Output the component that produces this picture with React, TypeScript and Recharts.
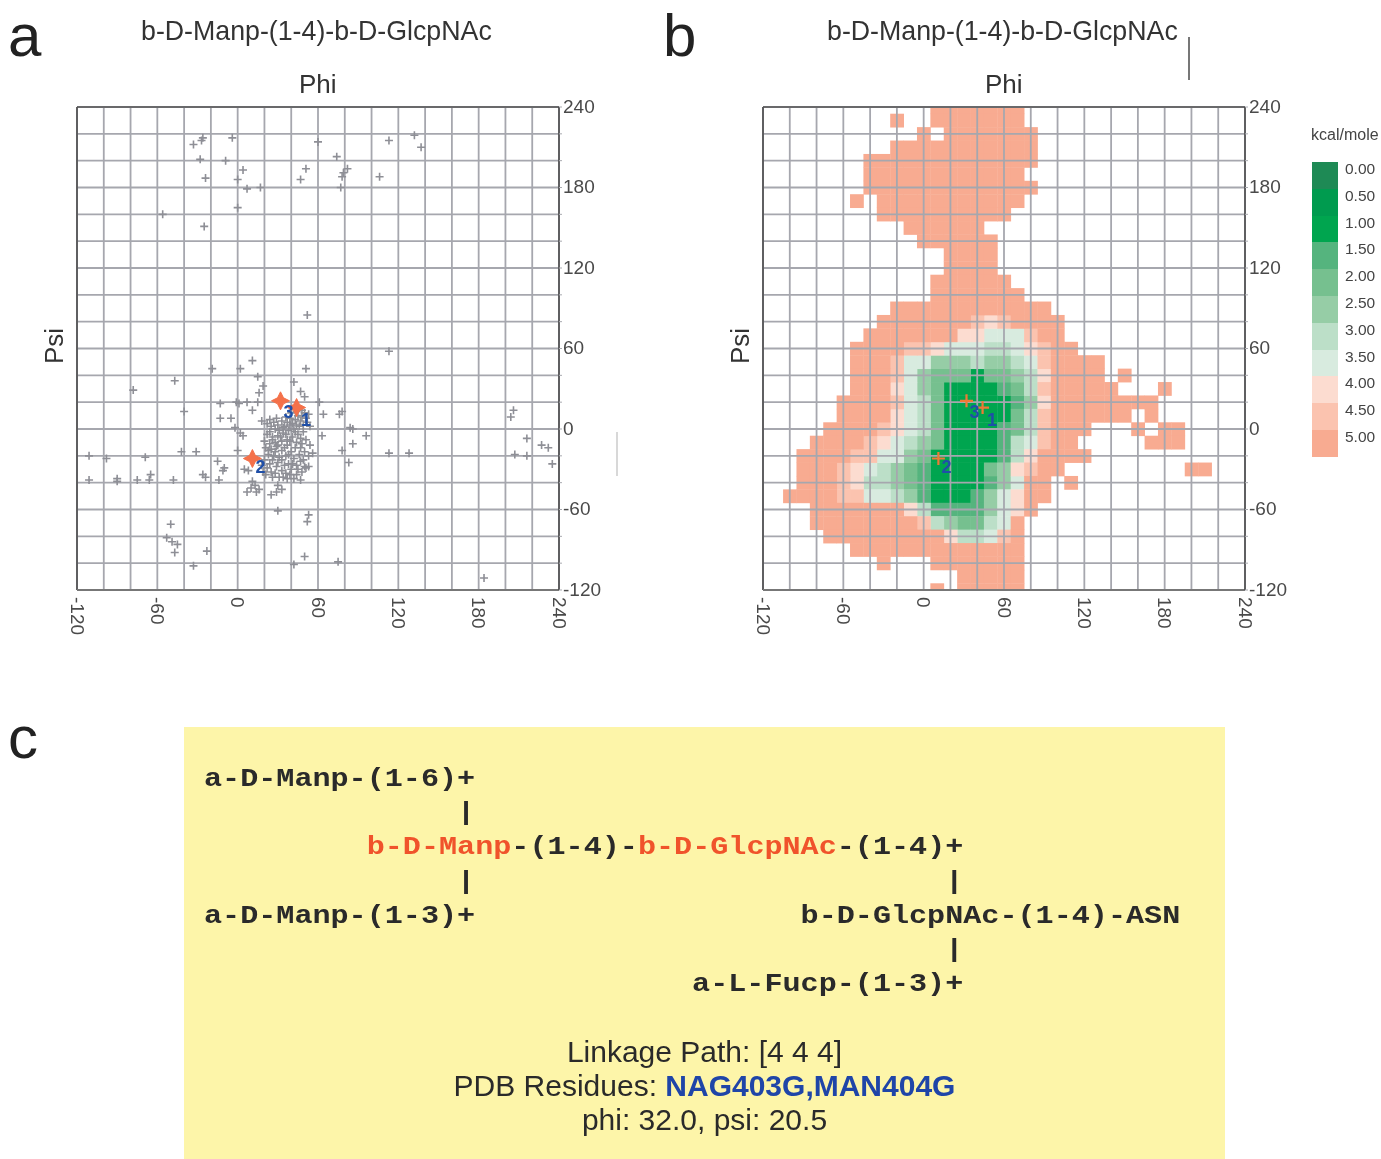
import { ScatterChart, Scatter, XAxis, YAxis, CartesianGrid, ReferenceLine } from 'recharts'

const gridTicks = [-120, -100, -80, -60, -40, -20, 0, 20, 40, 60, 80, 100, 120, 140, 160, 180, 200, 220, 240]
const gridPsiTicks = gridTicks

const titleText = 'b-D-Manp-(1-4)-b-D-GlcpNAc'

// [phi, psi] of the glycosidic linkages in the PDB survey (panel a)
const surveyTop = [
  [-33, 212], [-27, 215], [-26, 217], [-4, 217], [60, 214], [-28, 201], [-9, 200], [4, 193], [51, 194], [47, 186],
  [-24, 187], [0, 186], [7, 179], [17, 180], [-56, 160], [0, 165], [-25, 151], [52, 85], [74, 203], [82, 194],
  [79, 191], [78, 188], [77, 180], [106, 188], [113, 215], [132, 219], [137, 210],
]
const surveyLeft = [
  [-19, 45], [2, 45], [-47, 36], [-78, 29], [-13, 19], [-1, 20], [1, 19], [7, 20], [-40, 13], [-13, 8],
  [-5, 8], [-2, 1], [2, -3], [4, -5], [0, -16], [-42, -17], [-31, -17], [-69, -21], [-98, -22], [-111, -20],
  [-15, -24], [-10, -29], [-11, -31], [-26, -34], [-24, -36], [-65, -34], [-66, -38], [-75, -38], [-90, -37], [-90, -39],
  [-111, -38], [-48, -38], [-14, -38], [5, -30], [8, -31], [11, 51], [15, 39], [19, 32], [16, 27], [15, 20], [11, 14], [18, 6],
]
const surveyRight = [
  [113, 58], [51, 45], [61, 20], [64, 11], [78, 13], [76, 11], [84, 1], [86, 0], [63, -5], [96, -5],
  [86, -11], [78, -16], [56, -18], [113, -18], [128, -18], [83, -25], [50, 24], [53, -28], [51, -29], [206, 14],
  [204, 9], [216, -7], [207, -19], [216, -20], [227, -12], [232, -14], [235, -26], [42, 35], [47, 28],
]
const surveyBottom = [
  [-50, -71], [-53, -81], [-49, -84], [-45, -86], [-47, -92], [-23, -91], [-33, -102], [50, -95], [42, -101], [75, -99],
  [184, -111], [30, -61], [53, -64], [52, -69], [25, -49], [11, -39], [13, -42], [10, -44], [16, -45], [14, -47],
  [7, -47], [30, -42], [33, -45], [29, -47],
]
const surveyCluster = [
  [22, 4], [25, 2], [27, 5], [30, 3], [33, 6], [28, 0], [24, -2], [31, -1], [35, 2], [37, 5],
  [39, 8], [41, 4], [43, 7], [45, 10], [47, 6], [49, 3], [51, 8], [53, 11], [46, 2], [42, 0],
  [38, -1], [34, -3], [30, -5], [26, -6], [22, -4], [36, 9], [40, 12], [44, 13], [48, 14], [50, 12],
  [52, 5], [54, 2], [49, -2], [45, -4], [41, -6], [37, -8], [33, -9], [28, -10], [24, -11], [20, -9],
  [21, -14], [25, -15], [29, -13], [33, -16], [37, -12], [40, -17], [44, -10], [47, -14], [51, -8], [54, -12],
  [23, -19], [27, -20], [31, -21], [36, -20], [42, -22], [46, -19], [49, -23], [53, -20], [38, -26], [44, -27],
  [47, -24], [50, -28], [18, -27], [22, -29], [25, -32], [29, -28], [33, -31], [36, -33], [40, -30], [44, -34],
  [48, -32], [21, -34], [26, -36], [31, -36], [37, -37], [42, -37], [47, -38], [19, -32], [35, -27],
  [24, 7], [29, 8], [34, 1], [39, 3], [44, 3], [48, 9], [32, -6], [36, -4], [43, -2], [47, -7],
  [26, -8], [30, -12], [35, -14], [39, -9], [43, -14], [48, -11], [23, -16], [28, -17], [33, -23], [38, -19],
  [41, -26], [45, -30], [28, -33], [34, -36], [39, -34], [24, -26], [20, -23], [30, -25], [26, -23], [50, -17],
]

const optimaPhi = [44, 32, 11]
const optimaPsi = [16, 21, -22]
const numberPhi = [51, 17, 38]
const numberPsi = [7, -28, 13]
const numberText = ['1', '2', '3']

const levelNames = ['0.00', '0.50', '1.00', '1.50', '2.00', '2.50', '3.00', '3.50', '4.00', '4.50', '5.00']
const levelColors = ['#1E8A55', '#009B4F', '#00A54F', '#55B47E', '#76C08F', '#96CDA6', '#BCDFC8', '#D8EBDF', '#FCDCD0', '#FBC3AF', '#F8AB91']

// one string per psi row (240 down to -120), one char per phi column (-120 up), hex index into levelNames
const energyRows = [
  '.............AAAAAAA',
  '..........A..AAAAAAA',
  '............A.AAAAAAA',
  '..........AAAAAAAAAAA',
  '........AAAAAAAAAAAAA',
  '........AAAAAAAAAAAA',
  '........AAAAAAAAAAAAA',
  '.......A.AAAAAAAAAAA',
  '.........AAAAAAAAAA',
  '...........AAAAAA',
  '............AAAAAA',
  '..............AAAA',
  '..............AAAA',
  '.............AAAAAA',
  '.............AAAAAAA',
  '..........AAAAAAAAAAAA',
  '.........AAAAAAA989AAAA',
  '........AAAAAAA887779AA',
  '.......AAAA99877766789AA',
  '.......AAA977555655679AAAA',
  '.......AAA975444244568AAAA.A',
  '.......AAA875422223469AAAAA...A',
  '......AAAA976422222358AAAAAAAA',
  '......AAAA876422222469AAAAAA.A',
  '.....AAAA9876422223469AAA...A.AA',
  '....AAAA98765422223679AA.....AAA',
  '...AAAA99775422222368AAAA',
  '...AAA987654322224589AA.........AA',
  '...AAA98665432222357AA.A',
  '..AAAA99776532223578AA',
  '....AAAAAAA863333578A',
  '....AAAAAAAA9654467A',
  '.....AAAAAAAAA86679A',
  '.......AAAAAAAAAAAAA',
  '.........A...AAAAAAA',
  '...............AAAAA',
  '.............A.AAAAA',
]

const structureLines = [
  ['a-D-Manp-(1-6)+'],
  ['              |'],
  ['         ', '*b-D-Manp', '-(1-4)-', '*b-D-GlcpNAc', '-(1-4)+'],
  ['              |                          |'],
  ['a-D-Manp-(1-3)+                  b-D-GlcpNAc-(1-4)-ASN'],
  ['                                         |'],
  ['                           a-L-Fucp-(1-3)+'],
]

const surveyPoints = [...surveyTop, ...surveyLeft, ...surveyRight, ...surveyBottom, ...surveyCluster].map(([phi, psi]) => ({ phi, psi }))
const optima = optimaPhi.map((phi, i) => ({ phi, psi: optimaPsi[i] }))
const numbers = numberPhi.map((phi, i) => ({ phi, psi: numberPsi[i], label: numberText[i] }))

const energyCells: { phi: number; psi: number; level: number }[] = []
energyRows.forEach((row, r) => {
  row.split('').forEach((ch, c) => {
    if (ch !== '.') energyCells.push({ phi: -120 + c * 10, psi: 240 - r * 10, level: parseInt(ch, 16) })
  })
})

const PLOT_W = 482
const PLOT_H = 483
const CELL_W = PLOT_W / 36
const CELL_H = PLOT_H / 36
const SANS = '"Liberation Sans", Arial, sans-serif'

function HeatCell({ cx, cy, fill }: any) {
  return <rect x={cx - CELL_W / 2} y={cy - CELL_H / 2} width={CELL_W + 0.4} height={CELL_H + 0.4} fill={fill} />
}

function GrayPlus({ cx, cy }: any) {
  const d = `M${cx - 4} ${cy}H${cx + 4}M${cx} ${cy - 4}V${cy + 4}`
  return <path d={d} stroke="#8E8F96" strokeWidth={1.6} fill="none" />
}

function RedStar({ cx, cy }: any) {
  const d = `M${cx - 9} ${cy}L${cx - 3} ${cy - 3}L${cx} ${cy - 9}L${cx + 3} ${cy - 3}L${cx + 9} ${cy}L${cx + 3} ${cy + 3}L${cx} ${cy + 9}L${cx - 3} ${cy + 3}Z`
  return <path d={d} fill="#F4714A" stroke="#F4714A" strokeWidth={1} />
}

function OrangePlus({ cx, cy }: any) {
  const d = `M${cx - 6.5} ${cy}H${cx + 6.5}M${cx} ${cy - 6.5}V${cy + 6.5}`
  return <path d={d} stroke="#EE7A35" strokeWidth={2.2} fill="none" />
}

function NumberMark({ cx, cy, payload }: any) {
  return (
    <text x={cx} y={cy} textAnchor="middle" dominantBaseline="central" fontFamily={SANS} fontWeight="bold" fontSize={18} fill="#1F4FA8">
      {payload.label}
    </text>
  )
}

function PhiTick({ x, y, payload }: any) {
  if (payload.value % 60 !== 0) return <g />
  const y0 = y + 5
  return (
    <text x={x} y={y0} transform={`rotate(90 ${x} ${y0})`} dominantBaseline="central" fontFamily={SANS} fontSize={19} fill="#4A4A4A">
      {payload.value}
    </text>
  )
}

function PsiTick({ x, y, payload }: any) {
  if (payload.value % 60 !== 0) return <g />
  return (
    <text x={x + 1} y={y - 1} dominantBaseline="central" fontFamily={SANS} fontSize={19} fill="#4A4A4A">
      {payload.value}
    </text>
  )
}

function Panel({ left, letter, letterLeft, heat }: { left: number; letter: string; letterLeft: number; heat?: boolean }) {
  const plotX = left
  return (
    <>
      <div style={{ position: 'absolute', left: letterLeft, top: 2, fontFamily: SANS, fontSize: 60, color: '#222', lineHeight: '68px' }}>{letter}</div>
      <div style={{ position: 'absolute', left: plotX + 64, top: 16, fontFamily: SANS, fontSize: 26.75, color: '#333', lineHeight: '30px', whiteSpace: 'nowrap' }}>
        {titleText}
      </div>
      <div style={{ position: 'absolute', left: plotX + 222, top: 69, fontFamily: SANS, fontSize: 26, color: '#333', lineHeight: '30px' }}>Phi</div>
      <div
        style={{
          position: 'absolute',
          left: plotX - 23,
          top: 346,
          fontFamily: SANS,
          fontSize: 26,
          color: '#333',
          lineHeight: '30px',
          transform: 'translate(-50%, -50%) rotate(-90deg)',
        }}
      >
        Psi
      </div>
      <div style={{ position: 'absolute', left: plotX - 15, top: 92 }}>
        <ScatterChart width={15 + PLOT_W + 50 + 5} height={15 + PLOT_H + 50 + 5} margin={{ top: 15, left: 15, right: 5, bottom: 5 }}>
          <XAxis
            type="number"
            dataKey="phi"
            domain={[-120, 240]}
            ticks={gridTicks}
            interval={0}
            height={50}
            tick={<PhiTick />}
            tickSize={2}
            tickMargin={0}
            tickLine={false}
            allowDataOverflow
            axisLine={{ stroke: '#777', strokeWidth: 2 }}
          />
          <YAxis
            type="number"
            dataKey="psi"
            orientation="right"
            domain={[-120, 240]}
            ticks={gridPsiTicks}
            interval={0}
            width={50}
            tick={<PsiTick />}
            tickSize={3}
            tickMargin={0}
            allowDataOverflow
            tickLine={{ stroke: '#A9AAB0' }}
            axisLine={{ stroke: '#444', strokeWidth: 1.5 }}
          />
          {heat &&
            levelColors.map((color, level) => (
              <Scatter
                key={level}
                name={levelNames[level]}
                data={energyCells.filter((c) => c.level === level)}
                fill={color}
                shape={<HeatCell />}
                isAnimationActive={false}
                zIndex={100}
              />
            ))}
          <CartesianGrid stroke="#A6A7AE" strokeWidth={1.8} syncWithTicks zIndex={200} />
          <ReferenceLine x={-120} stroke="#444" strokeWidth={1.5} zIndex={300} />
          <ReferenceLine y={240} stroke="#555" strokeWidth={1.5} zIndex={300} />
          {!heat && <Scatter name="Linkages" data={surveyPoints} shape={<GrayPlus />} isAnimationActive={false} zIndex={400} />}
          <Scatter name="Clusters" data={optima} shape={heat ? <OrangePlus /> : <RedStar />} isAnimationActive={false} zIndex={500} />
          <Scatter name="Cluster numbers" data={numbers} shape={<NumberMark />} isAnimationActive={false} zIndex={600} />
        </ScatterChart>
      </div>
    </>
  )
}

export default function App() {
  return (
    <div style={{ position: 'absolute', left: 0, top: 0, width: 1381, height: 1159, background: '#fff', overflow: 'hidden', filter: 'blur(0.5px)' }}>
      <Panel left={77} letter="a" letterLeft={8} />
      <Panel left={763} letter="b" letterLeft={663} heat />

      {/* stray rules from the original figure */}
      <div style={{ position: 'absolute', left: 1188, top: 37, width: 1.5, height: 43, background: '#777' }} />
      <div style={{ position: 'absolute', left: 616, top: 432, width: 1.5, height: 44, background: '#D8D8D8' }} />

      <div style={{ position: 'absolute', left: 1311, top: 125, fontFamily: SANS, fontSize: 16, color: '#444', lineHeight: '20px' }}>kcal/mole</div>
      {levelNames.map((name, i) => (
        <div key={name}>
          <div style={{ position: 'absolute', left: 1312, top: 162 + i * 26.8, width: 26, height: 26.8, background: levelColors[i] }} />
          <div style={{ position: 'absolute', left: 1345, top: 160 + i * 26.8, fontFamily: SANS, fontSize: 15.5, color: '#444', lineHeight: '18px' }}>{name}</div>
        </div>
      ))}

      <div style={{ position: 'absolute', left: 8, top: 704, fontFamily: SANS, fontSize: 60, color: '#222', lineHeight: '68px' }}>c</div>
      <div style={{ position: 'absolute', left: 184, top: 727, width: 1041, height: 432, background: '#FDF5A9' }}>
        {structureLines.map((parts, i) => (
          <div
            key={i}
            style={{
              position: 'absolute',
              left: 20,
              top: 37 + i * 34.2,
              fontFamily: '"Liberation Mono", monospace',
              fontWeight: 'bold',
              fontSize: 25,
              lineHeight: '32px',
              color: '#2A2A2A',
              whiteSpace: 'pre',
              transform: 'scaleX(1.205)',
              transformOrigin: 'left center',
            }}
          >
            {parts.map((part, j) =>
              part.startsWith('*') ? (
                <span key={j} style={{ color: '#F0532B' }}>
                  {part.slice(1)}
                </span>
              ) : (
                <span key={j}>{part}</span>
              ),
            )}
          </div>
        ))}
        <div style={{ position: 'absolute', left: 0, right: 0, top: 308, textAlign: 'center', fontFamily: SANS, fontSize: 30, lineHeight: '33.8px', color: '#2A2A2A' }}>
          <div>Linkage Path: [4 4 4]</div>
          <div>
            PDB Residues: <span style={{ color: '#1F45A8', fontWeight: 'bold' }}>NAG403G,MAN404G</span>
          </div>
          <div>phi: 32.0, psi: 20.5</div>
        </div>
      </div>
    </div>
  )
}
